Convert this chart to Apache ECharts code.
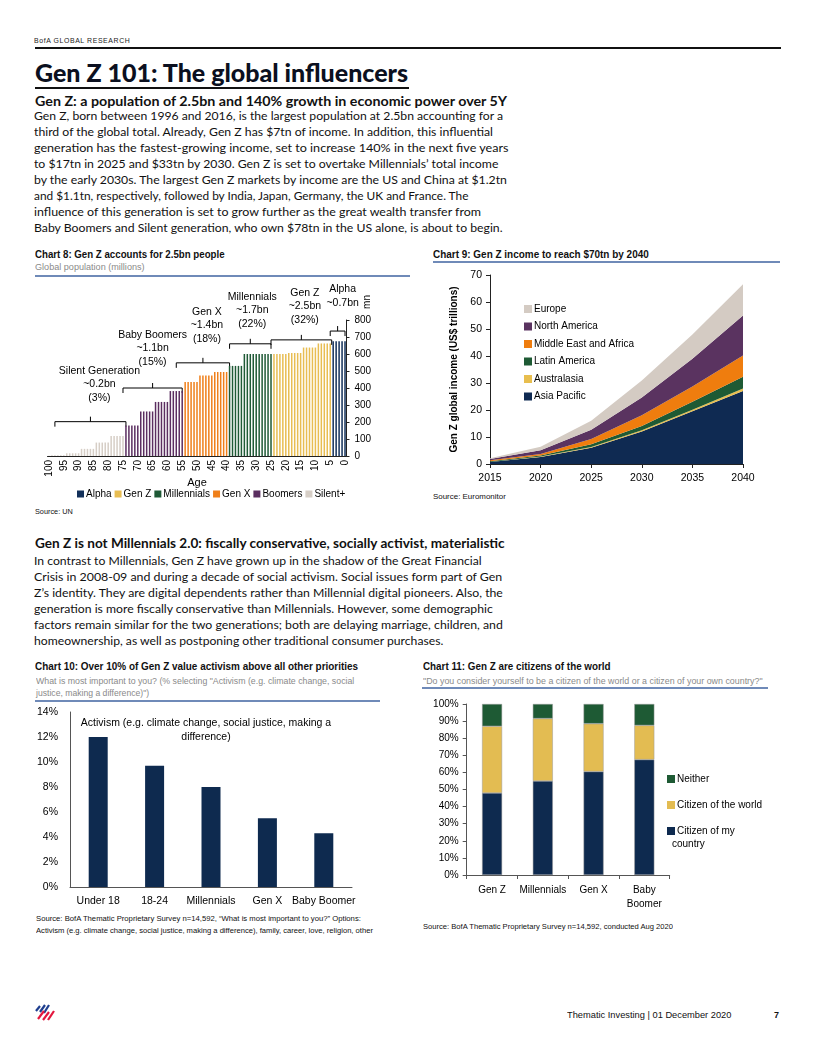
<!DOCTYPE html>
<html><head><meta charset="utf-8">
<script src="https://cdn.jsdelivr.net/npm/echarts/dist/echarts.min.js"></script>
<style>
html,body{margin:0;padding:0;background:#fff;}
body{width:816px;height:1056px;position:relative;overflow:hidden;font-family:"Liberation Sans",Arial,sans-serif;color:#000;}
.a{position:absolute;white-space:nowrap;transform-origin:0 50%;}
.rule{position:absolute;}
.body{font-family:Lato,"Noto Sans",sans-serif;font-size:12px;line-height:16px;color:#111;}
.head{font-family:Lato,"Noto Sans",sans-serif;font-weight:bold;font-size:13px;line-height:16px;color:#111;}
.ct{font-family:"Liberation Sans",Arial,sans-serif;font-weight:bold;font-size:10px;line-height:12px;color:#111;}
.cs{font-family:"Liberation Sans",Arial,sans-serif;font-size:9px;line-height:12px;color:#8a8a8a;}
.src{font-family:"Liberation Sans",Arial,sans-serif;font-size:7.5px;line-height:12px;color:#111;}
.chart{position:absolute;}
</style>
</head><body>

<div class="a" data-w="96" style="left:34px;top:36px;font-size:7px;line-height:10px;letter-spacing:0.6px;color:#222;">BofA GLOBAL RESEARCH</div>
<div class="rule" style="left:35px;top:47px;width:746px;height:2px;background:#111;"></div>
<div class="a" style="left:35px;top:57px;font-family:Lato,'Noto Sans',sans-serif;font-weight:900;font-size:25px;line-height:30px;color:#0b1020;">Gen Z 101: The global influencers</div>
<div class="rule" style="left:35px;top:87px;width:374px;height:2px;background:#111;"></div>

<div class="a head" data-w="472" style="left:35px;top:93px;">Gen Z: a population of 2.5bn and 140% growth in economic power over 5Y</div>
<div class="a body" data-w="469" style="left:34px;top:108px;">Gen Z, born between 1996 and 2016, is the largest population at 2.5bn accounting for a</div>
<div class="a body" data-w="459" style="left:34px;top:124px;">third of the global total. Already, Gen Z has $7tn of income. In addition, this influential</div>
<div class="a body" data-w="474" style="left:34px;top:140px;">generation has the fastest-growing income, set to increase 140% in the next five years</div>
<div class="a body" data-w="464" style="left:34px;top:156px;">to $17tn in 2025 and $33tn by 2030. Gen Z is set to overtake Millennials’ total income</div>
<div class="a body" data-w="473" style="left:34px;top:172px;">by the early 2030s. The largest Gen Z markets by income are the US and China at $1.2tn</div>
<div class="a body" data-w="434" style="left:34px;top:188px;">and $1.1tn, respectively, followed by India, Japan, Germany, the UK and France. The</div>
<div class="a body" data-w="447" style="left:34px;top:204px;">influence of this generation is set to grow further as the great wealth transfer from</div>
<div class="a body" data-w="469" style="left:34px;top:220px;">Baby Boomers and Silent generation, who own $78tn in the US alone, is about to begin.</div>

<div class="a ct" data-w="190" style="left:35px;top:249px;">Chart 8: Gen Z accounts for 2.5bn people</div>
<div class="a cs" data-w="110" style="left:35px;top:261px;">Global population (millions)</div>
<div class="rule" style="left:35px;top:275px;width:375px;height:1.5px;background:#6f8ab8;"></div>
<div class="a src" data-w="38" style="left:35px;top:506px;">Source: UN</div>

<div class="a ct" data-w="216" style="left:433px;top:249px;">Chart 9: Gen Z income to reach $70tn by 2040</div>
<div class="rule" style="left:433px;top:261px;width:347px;height:1.5px;background:#6f8ab8;"></div>
<div class="a src" data-w="73" style="left:433px;top:491px;">Source: Euromonitor</div>

<div class="a head" data-w="470" style="left:35px;top:535px;">Gen Z is not Millennials 2.0: fiscally conservative, socially activist, materialistic</div>
<div class="a body" data-w="448" style="left:34px;top:553px;">In contrast to Millennials, Gen Z have grown up in the shadow of the Great Financial</div>
<div class="a body" data-w="468" style="left:34px;top:569px;">Crisis in 2008-09 and during a decade of social activism. Social issues form part of Gen</div>
<div class="a body" data-w="469" style="left:34px;top:585px;">Z’s identity. They are digital dependents rather than Millennial digital pioneers. Also, the</div>
<div class="a body" data-w="459" style="left:34px;top:601px;">generation is more fiscally conservative than Millennials. However, some demographic</div>
<div class="a body" data-w="469" style="left:34px;top:617px;">factors remain similar for the two generations; both are delaying marriage, children, and</div>
<div class="a body" data-w="409" style="left:34px;top:633px;">homeownership, as well as postponing other traditional consumer purchases.</div>

<div class="a ct" data-w="323" style="left:35px;top:661px;">Chart 10: Over 10% of Gen Z value activism above all other priorities</div>
<div class="a cs" data-w="318" style="left:36px;top:675px;">What is most important to you? (% selecting "Activism (e.g. climate change, social</div>
<div class="a cs" data-w="113" style="left:36px;top:687px;">justice, making a difference)")</div>
<div class="rule" style="left:35px;top:700px;width:345px;height:1.5px;background:#6f8ab8;"></div>
<div class="a src" data-w="325" style="left:36px;top:913px;">Source: BofA Thematic Proprietary Survey n=14,592, “What is most important to you?” Options:</div>
<div class="a src" data-w="337" style="left:36px;top:925px;">Activism (e.g. climate change, social justice, making a difference), family, career, love, religion, other</div>

<div class="a ct" data-w="188" style="left:423px;top:661px;">Chart 11: Gen Z are citizens of the world</div>
<div class="a cs" data-w="340" style="left:423px;top:675px;">"Do you consider yourself to be a citizen of the world or a citizen of your own country?"</div>
<div class="rule" style="left:422px;top:687px;width:346px;height:1.5px;background:#6f8ab8;"></div>
<div class="a src" data-w="250" style="left:423px;top:921px;">Source: BofA Thematic Proprietary Survey n=14,592, conducted Aug 2020</div>

<svg class="a" style="left:33px;top:1002px;" width="26" height="20" viewBox="0 0 26 20">
  <g stroke-width="2.2" stroke-linecap="butt">
    <line x1="3" y1="9" x2="7" y2="4" stroke="#1f3f8f"/>
    <line x1="7" y1="10" x2="12" y2="3" stroke="#1f3f8f"/>
    <line x1="11" y1="11" x2="16" y2="3" stroke="#1f3f8f"/>
    <line x1="5" y1="17" x2="11" y2="9" stroke="#e3173e"/>
    <line x1="10" y1="18" x2="16" y2="10" stroke="#e3173e"/>
    <line x1="15" y1="18" x2="21" y2="9" stroke="#e3173e"/>
  </g>
</svg>
<div class="a src" data-w="164" style="left:567px;top:1009px;font-size:9px;">Thematic Investing | 01 December 2020</div>
<div class="a src" style="left:774px;top:1009px;font-size:9px;font-weight:bold;">7</div>

<div id="c8" class="chart" style="left:30px;top:280px;width:385px;height:225px;"></div>
<div id="c9" class="chart" style="left:425px;top:265px;width:370px;height:228px;"></div>
<div id="c10" class="chart" style="left:30px;top:705px;width:380px;height:207px;"></div>
<div id="c11" class="chart" style="left:420px;top:695px;width:370px;height:225px;"></div>

<script>
// fit text widths
document.querySelectorAll('[data-w]').forEach(el=>{
  const w = el.scrollWidth, t = +el.dataset.w;
  if (w>0) el.style.transform = 'scaleX(' + (t/w) + ')';
});

// ---------- Chart 8 data ----------
const ages = ['100','99','98','97','96','95','94','93','92','91','90','89','88','87','86','85','84','83','82','81','80','79','78','77','76','75','74','73','72','71','70','69','68','67','66','65','64','63','62','61','60','59','58','57','56','55','54','53','52','51','50','49','48','47','46','45','44','43','42','41','40','39','38','37','36','35','34','33','32','31','30','29','28','27','26','25','24','23','22','21','20','19','18','17','16','15','14','13','12','11','10','9','8','7','6','5','4','3','2','1','0'];
const populationMn = [2,5,5,5,5,5,16,16,16,16,16,42,42,42,42,42,79,79,79,79,79,118,118,118,118,118,180,180,180,180,180,262,262,262,262,262,318,318,318,318,318,382,382,382,382,382,435,435,435,435,435,474,474,474,474,474,494,494,494,494,494,530,530,530,530,530,600,600,600,600,600,600,600,600,600,600,600,600,600,600,600,606,606,606,606,606,638,638,638,638,638,662,662,662,662,662,675,675,675,675,675];
const generations = ['Alpha','Gen Z','Millennials','Gen X','Boomers','Silent+'];
const generationAges = {'Alpha':[0,4],'Gen Z':[5,24],'Millennials':[25,39],'Gen X':[40,54],'Boomers':[55,74],'Silent+':[75,100]};
const genColors = ['#12305a','#e8bd52','#1f5a36','#ef7f1a','#5b2e60','#d6cec6'];
const yTicks8 = [0,800,100];
const annotations = [
  {lines:['Silent Generation','~0.2bn','(3%)'], span:[98,74]},
  {lines:['Baby Boomers','~1.1bn','(15%)'], span:[75,55]},
  {lines:['Gen X','~1.4bn','(18%)'], span:[57,39]},
  {lines:['Millennials','~1.7bn','(22%)'], span:[39,25]},
  {lines:['Gen Z','~2.5bn','(32%)'], span:[25,4.5]},
  {lines:['Alpha','~0.7bn'], span:[5,0]}
];

// ---------- Chart 9 data ----------
const years = ['2015','2020','2025','2030','2035','2040'];
const regions = ['Asia Pacific','Australasia','Latin America','Middle East and Africa','North America','Europe'];
const incomeAsiaPacific = [0.7,2.6,6.0,12.0,19.5,27.0];
const incomeAustralasia = [0.05,0.15,0.3,0.5,0.6,1.0];
const incomeLatinAmerica = [0.3,0.4,1.0,1.6,3.0,4.3];
const incomeMEA = [0.3,0.6,2.0,4.0,5.6,7.9];
const incomeNorthAmerica = [0.5,1.3,3.4,6.5,10.3,14.8];
const incomeEurope = [0.3,1.3,3.3,6.3,9.0,11.6];
const regionColors = ['#0f2a52','#e8be4e','#1e5a34','#ef7d0e','#5a3360','#d4cbc3'];

// ---------- Chart 10 data ----------
const groups10 = ['Under 18','18-24','Millennials','Gen X','Baby Boomer'];
const activismPct = [12.0,9.7,8.0,5.5,4.3];
const activismName = 'Activism (e.g. climate change, social justice, making a difference)';

// ---------- Chart 11 data ----------
const groups11 = ['Gen Z','Millennials','Gen X','Baby Boomer'];
const citizenCountry = [48,55,60.5,67.5];
const citizenWorld = [39,36.5,28,20];
const citizenNeither = [13,8.5,11.5,12.5];

const FONT = '"Liberation Sans", Arial, sans-serif';
const axisCol = '#222';

// ===== Chart 8 =====
const c8 = echarts.init(document.getElementById('c8'));
c8.setOption({
  animation:false,
  textStyle:{fontFamily:FONT},
  grid:{left:17.5, top:40, width:299, height:136},
  legend:{left:42, top:204, itemWidth:7, itemHeight:7, itemGap:3, icon:'rect',
    textStyle:{fontSize:10, color:'#000', padding:[0,0,0,-3]}, data:generations},
  xAxis:{type:'category', data:ages,
    axisLine:{lineStyle:{color:axisCol, width:1}},
    axisTick:{interval:0, length:3, lineStyle:{color:'#444'}},
    axisLabel:{interval:4, rotate:90, fontSize:10, color:'#000', margin:4},
    name:'Age', nameLocation:'middle', nameGap:21, nameMoveOverlap:false,
    nameTextStyle:{fontSize:11, color:'#000', verticalAlign:'top'}},
  yAxis:{type:'value', position:'right', min:yTicks8[0], max:yTicks8[1], interval:yTicks8[2],
    axisLine:{show:true, lineStyle:{color:axisCol}},
    axisTick:{show:true, length:3, lineStyle:{color:axisCol}},
    axisLabel:{fontSize:10, color:'#000', margin:8},
    splitLine:{show:false}},
  series: generations.map((g,gi)=>({
    name:g, type:'bar', barWidth:1.5, barGap:'-100%',
    itemStyle:{color:genColors[gi]},
    data: populationMn.map((v,i)=>{const a=+ages[i]; const r=generationAges[g]; return (a>=r[0]&&a<=r[1])?v:'-';})
  }))
});
(function(){
  const xA = c8.convertToPixel({xAxisIndex:0}, ages[0]);
  const xB = c8.convertToPixel({xAxisIndex:0}, ages[ages.length-1]);
  const px = a => xA + (100-a)*(xB-xA)/100;
  const y0 = c8.convertToPixel({yAxisIndex:0}, 0);
  const y8 = c8.convertToPixel({yAxisIndex:0}, 800);
  const py = v => y0 + v*(y8-y0)/800;
  const levels = [202,400,548,660,683,735];
  const textGap = [24,26,24,20,20,28];
  const dx = [9,0,4,2,3.5,5];
  const els = [];
  annotations.forEach((an,k)=>{
    const x1 = px(an.span[0]), x2 = px(an.span[1]), y = py(levels[k]), xm=(x1+x2)/2;
    els.push({type:'polyline', shape:{points:[[x1,y+5],[x1,y],[x2,y],[x2,y+5]]}, style:{stroke:'#000', lineWidth:1, fill:null}, silent:true});
    els.push({type:'line', shape:{x1:xm,y1:y,x2:xm,y2:y-5}, style:{stroke:'#000', lineWidth:1}, silent:true});
    const n = an.lines.length;
    an.lines.forEach((t,i)=>{
      els.push({type:'text', style:{text:t, x:xm+dx[k], y:y-textGap[k]-(n-1-i)*13.5, textAlign:'center', textVerticalAlign:'middle', font:'10.5px '+FONT, fill:'#000'}, silent:true});
    });
  });
  els.push({type:'text', x:337, y:22, rotation:Math.PI/2, style:{text:'mn', x:0, y:0, textAlign:'center', textVerticalAlign:'middle', font:'10px '+FONT, fill:'#000'}, silent:true});
  c8.setOption({graphic:els});
})();

// ===== Chart 9 =====
const c9 = echarts.init(document.getElementById('c9'));
const regionData = [incomeAsiaPacific,incomeAustralasia,incomeLatinAmerica,incomeMEA,incomeNorthAmerica,incomeEurope];
c9.setOption({
  animation:false,
  textStyle:{fontFamily:FONT},
  grid:{left:65, top:10, width:253, height:189},
  legend:{orient:'vertical', left:94, top:34, itemWidth:8, itemHeight:8, itemGap:7.5, icon:'rect',
    textStyle:{fontSize:10, color:'#000', padding:[0,0,0,-3]}, data:regions.slice().reverse()},
  xAxis:{type:'category', boundaryGap:false, data:years,
    axisLine:{lineStyle:{color:axisCol}}, axisTick:{length:4, lineStyle:{color:axisCol}},
    axisLabel:{fontSize:10.5, color:'#000', margin:9}},
  yAxis:{type:'value', min:0, max:70, interval:10,
    name:'Gen Z global income (US$ trillions)', nameLocation:'middle', nameGap:25,
    nameTextStyle:{fontSize:10, fontWeight:'bold', color:'#000'},
    axisLine:{show:true, lineStyle:{color:axisCol}}, axisTick:{show:true, length:4, lineStyle:{color:axisCol}},
    axisLabel:{fontSize:10.5, color:'#000', margin:8}, splitLine:{show:false}},
  series: regions.map((r,i)=>({
    name:r, type:'line', stack:'total', symbol:'none', smooth:false,
    lineStyle:{width:0}, itemStyle:{color:regionColors[i]},
    areaStyle:{color:regionColors[i], opacity:1}, data:regionData[i]
  }))
});

// ===== Chart 10 =====
const c10 = echarts.init(document.getElementById('c10'));
c10.setOption({
  animation:false,
  textStyle:{fontFamily:FONT},
  grid:{left:40, top:7, width:282, height:175},
  xAxis:{type:'category', data:groups10,
    axisLine:{lineStyle:{color:'#555'}}, axisTick:{show:false},
    axisLabel:{interval:0, fontSize:10.5, color:'#000', margin:9}},
  yAxis:{type:'value', min:0, max:14, interval:2,
    axisLine:{show:true, lineStyle:{color:'#555'}}, axisTick:{show:false},
    axisLabel:{fontSize:10.5, color:'#000', margin:12, formatter:'{value}%'}, splitLine:{show:false}},
  series:[{name:activismName, type:'bar', barWidth:19, itemStyle:{color:'#0e2a4f'}, data:activismPct}],
  graphic:[{type:'text', silent:true, style:{text:'Activism (e.g. climate change, social justice, making a\ndifference)', x:176, y:11, textAlign:'center', textVerticalAlign:'top', font:'10.5px '+FONT, lineHeight:14, fill:'#000'}}]
});

// ===== Chart 11 =====
const c11 = echarts.init(document.getElementById('c11'));
c11.setOption({
  animation:false,
  textStyle:{fontFamily:FONT},
  grid:{left:46.7, top:9, width:203, height:171},
  legend:{orient:'vertical', left:242, top:74, itemWidth:8, itemHeight:8, itemGap:16, icon:'rect',
    itemStyle:{borderWidth:0},
    textStyle:{fontSize:10, color:'#000', padding:[0,0,0,-3]},
    data:['Neither','Citizen of the world','Citizen of my country'],
    formatter: n => n==='Citizen of my country' ? 'Citizen of my' : n},
  xAxis:{type:'category', data:groups11,
    axisLine:{lineStyle:{color:'#555'}}, axisTick:{show:true, length:4, lineStyle:{color:'#555'}},
    axisLabel:{interval:0, fontSize:10, color:'#000', margin:8, lineHeight:14, formatter: v => v==='Baby Boomer' ? 'Baby\nBoomer' : v}},
  yAxis:{type:'value', min:0, max:100, interval:10,
    axisLine:{show:true, lineStyle:{color:'#555'}}, axisTick:{show:true, length:4, lineStyle:{color:'#555'}},
    axisLabel:{fontSize:10, color:'#000', margin:8, formatter:'{value}%'}, splitLine:{show:false}},
  series:[
    {name:'Citizen of my country', type:'bar', stack:'s', barWidth:20, itemStyle:{color:'#0e2a4f', borderColor:'#9a9a9a', borderWidth:0.5}, data:citizenCountry},
    {name:'Citizen of the world', type:'bar', stack:'s', barWidth:20, itemStyle:{color:'#e3bc52', borderColor:'#9a9a9a', borderWidth:0.5}, data:citizenWorld},
    {name:'Neither', type:'bar', stack:'s', barWidth:20, itemStyle:{color:'#1e5a34', borderColor:'#9a9a9a', borderWidth:0.5}, data:citizenNeither}
  ],
  graphic:[{type:'text', silent:true, style:{text:'country', x:252, y:149, textVerticalAlign:'middle', font:'10px '+FONT, fill:'#000'}}]
});
</script>
</body></html>
